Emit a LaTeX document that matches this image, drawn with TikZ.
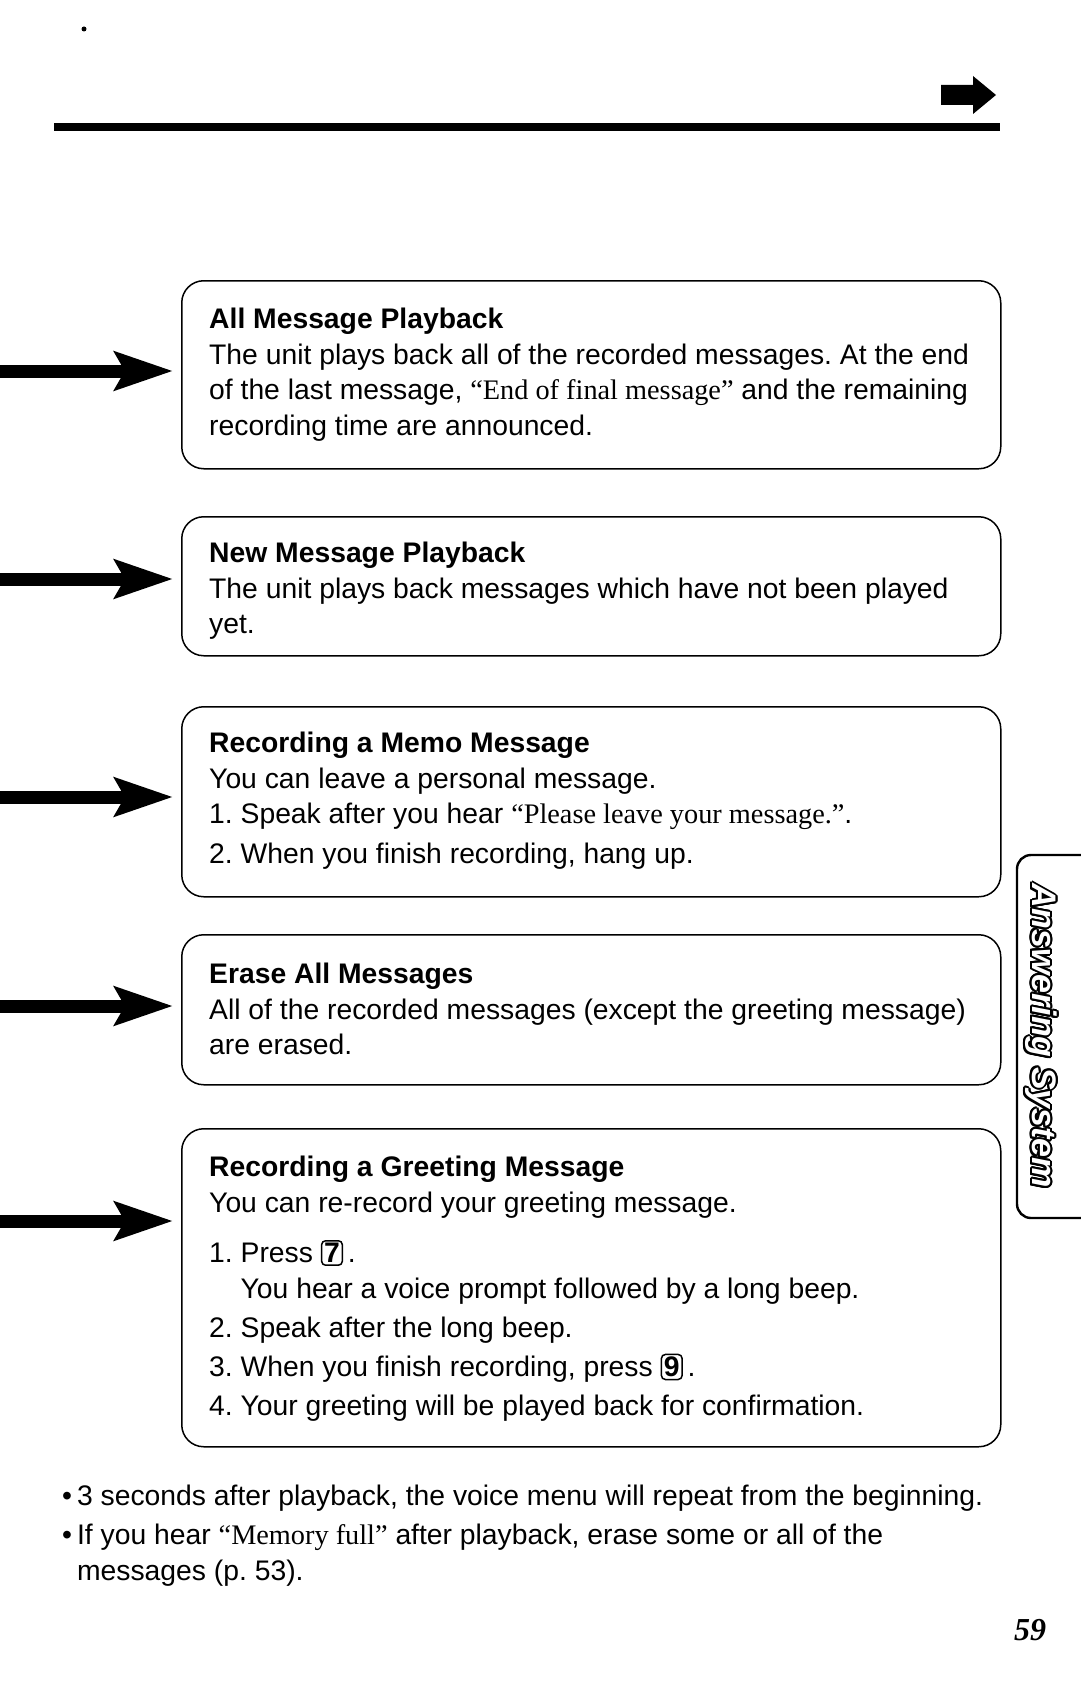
\documentclass[tikz,border=0pt]{standalone}
\usepackage{fontspec}
\setmainfont{Liberation Sans}
\newfontfamily\voicefont{Liberation Serif}
\usepackage{contour}
\contourlength{2pt}
\usetikzlibrary{arrows.meta}
\frenchspacing
\newcommand{\voice}[1]{{\voicefont #1}}
\newcommand{\keycap}[1]{\tikz[baseline=(keycap.base)]\node[draw,line width=1.5pt,rounded corners=4pt,inner sep=2.5pt,font=\bfseries] (keycap) {#1};\,}
\newcommand{\stepin}{\phantom{1.\ }}
\newcommand{\dotitem}{\textbullet\hspace{5pt}}

\begin{document}
\begin{tikzpicture}[x=1pt,y=-1pt]
                        \tikzstyle{msgbox}=[draw, line width=1.5pt, rounded corners=22pt, minimum width=819pt, anchor=north west, inner sep=0pt]
                        \tikzstyle{boxtext}=[anchor=north west, inner sep=0pt, align=left, font=\fontsize{28.3}{35.5}\selectfont]
                        \tikzstyle{bigarrow}=[line width=13pt, shorten >=8pt, -{Stealth[length=58pt,width=38pt,inset=10pt]}]
                        \fill[white] (0,0) rectangle (1080,1696);
                        \useasboundingbox (0,0) rectangle (1080,1696);
                        \fill (84,29) circle (2.5);
                        \fill (54,123) rectangle (1000,131);
                        \fill (941,85) -- (973,85) -- (973,76) -- (996,95) -- (973,114) -- (973,105) -- (941,105) -- cycle;
                        \node[msgbox, minimum height=188pt] (allbox) at (181,280) {};
                        \node[boxtext] (alltext) at ([shift={(28,28)}]allbox.north west) {\textbf{All Message Playback}\\
                            The unit plays back all of the recorded messages. At the end\\
                            of the last message, \voice{“End of final message”} and the remaining\\
                            recording time are announced.};
                        \node[msgbox, minimum height=139pt] (newbox) at (181,516) {};
                        \node[boxtext] (newtext) at ([shift={(28,26)}]newbox.north west) {\textbf{New Message Playback}\\
                            The unit plays back messages which have not been played\\
                            yet.};
                        \node[msgbox, minimum height=190pt] (memobox) at (181,706) {};
                        \node[boxtext] (memotext) at ([shift={(28,26)}]memobox.north west) {\textbf{Recording a Memo Message}\\
                            You can leave a personal message.\\
                            1. Speak after you hear \voice{“Please leave your message.”}.\\[4pt]
                            2. When you finish recording, hang up.};
                        \node[msgbox, minimum height=150pt] (erasebox) at (181,934) {};
                        \node[boxtext] (erasetext) at ([shift={(28,29)}]erasebox.north west) {\textbf{Erase All Messages}\\
                            All of the recorded messages (except the greeting message)\\
                            are erased.};
                        \node[msgbox, minimum height=318pt] (greetbox) at (181,1128) {};
                        \node[boxtext] (greettext) at ([shift={(28,28)}]greetbox.north west) {\textbf{Recording a Greeting Message}\\
                            You can re-record your greeting message.\\[15pt]
                            1. Press \keycap{7}.\\
                            \stepin You hear a voice prompt followed by a long beep.\\[4pt]
                            2. Speak after the long beep.\\[3.5pt]
                            3. When you finish recording, press \keycap{9}.\\[3.5pt]
                            4. Your greeting will be played back for confirmation.};
                        \coordinate (allstart) at (0,371);
                        \coordinate (newstart) at (0,579);
                        \coordinate (memostart) at (0,797);
                        \coordinate (erasestart) at (0,1006);
                        \coordinate (greetstart) at (0,1221);
                        \draw[bigarrow] (allstart) -- (allstart -| allbox.west);
                        \draw[bigarrow] (newstart) -- (newstart -| newbox.west);
                        \draw[bigarrow] (memostart) -- (memostart -| memobox.west);
                        \draw[bigarrow] (erasestart) -- (erasestart -| erasebox.west);
                        \draw[bigarrow] (greetstart) -- (greetstart -| greetbox.west);
                        \draw[line width=2.4pt, rounded corners=14pt] (1086,855) -- (1017,855) -- (1017,1218) -- (1086,1218);
                        \node[rotate=-90, font=\fontsize{34}{40}\selectfont\bfseries\itshape] (tablabel) at (1040,1036) {\contour{black}{\textcolor{white}{Answering System}}};
                        \node[boxtext] (notes) at (62,1485) {\dotitem 3 seconds after playback, the voice menu will repeat from the beginning.\\[3.5pt]
                            \dotitem If you hear \voice{“Memory full”} after playback, erase some or all of the\\
                            \phantom{\dotitem}messages (p. 53).};
                        \node[font=\fontsize{32}{38}\selectfont\voicefont\bfseries\itshape] (pagenum) at (1030,1630) {59};
\end{tikzpicture}
\end{document}
